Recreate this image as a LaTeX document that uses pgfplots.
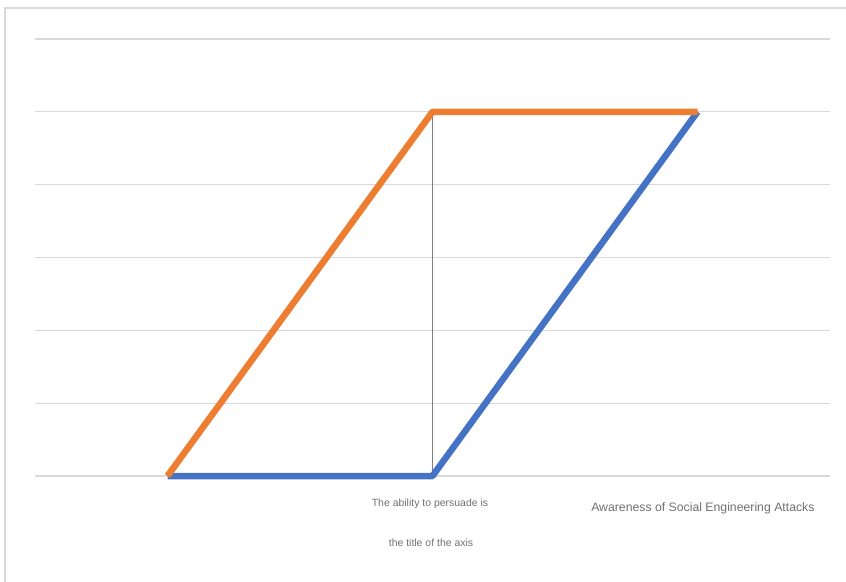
\documentclass[border=0pt]{standalone}
\usepackage{pgfplots}
\pgfplotsset{compat=1.18}
\usepackage{fontspec}
\setmainfont{Liberation Sans}
\definecolor{xlblue}{HTML}{4472C4}
\definecolor{xlorange}{HTML}{ED7D31}
\definecolor{gridgray}{HTML}{D9D9D9}
\definecolor{txtgray}{HTML}{707070}
\definecolor{vgray}{HTML}{808080}
\begin{document}
\begin{tikzpicture}[x=1bp,y=1bp]
\useasboundingbox (0,0) rectangle (846,-582);
\draw[gridgray, line width=1.2bp] (5,-582) -- (5,-8) -- (846,-8);
\begin{axis}[
  at={(35bp,-476bp)}, anchor=south west,
  scale only axis, width=795bp, height=437bp,
  xmin=0.5, xmax=3.5, ymin=0, ymax=6,
  axis line style={draw=none},
  xtick=\empty, ytick={0,1,2,3,4,5,6}, yticklabels={},
  major tick length=0pt,
  ymajorgrids, grid style={gridgray, line width=1.2bp},
  clip=false,
]
\addplot[vgray, line width=1.8bp] coordinates {(2,0) (2,5)};
\addplot[xlblue, line width=6.5bp, line join=round] coordinates {(1,0) (2,0) (3,5)};
\addplot[xlorange, line width=6.5bp, line join=round] coordinates {(1,0) (2,5) (3,5)};
\end{axis}
\node[txtgray, font=\fontsize{10.5}{12}\selectfont] at (430,-504) {The ability to persuade is};
\node[txtgray, font=\fontsize{10.5}{12}\selectfont] at (431,-543) {the title of the axis};
\node[txtgray, font=\fontsize{12.3}{14}\selectfont, anchor=east] at (818,-508) {Awareness of Social Engineering Attacks};
\end{tikzpicture}
\end{document}
